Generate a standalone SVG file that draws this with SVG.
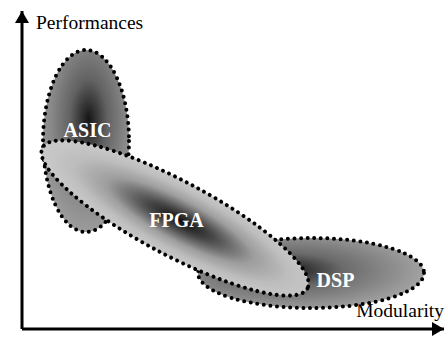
<svg xmlns="http://www.w3.org/2000/svg" width="446" height="343" viewBox="0 0 446 343">
  <defs>
    <radialGradient id="gAsic" cx="0.53" cy="0.38" r="0.62">
      <stop offset="0" stop-color="#151515"/>
      <stop offset="0.35" stop-color="#626262"/>
      <stop offset="0.7" stop-color="#888888"/>
      <stop offset="1" stop-color="#9c9c9c"/>
    </radialGradient>
    <radialGradient id="gFpga" cx="0.52" cy="0.5" r="0.5">
      <stop offset="0" stop-color="#0e0e0e"/>
      <stop offset="0.25" stop-color="#4a4a4a"/>
      <stop offset="0.55" stop-color="#9e9e9e"/>
      <stop offset="0.8" stop-color="#bdbdbd"/>
      <stop offset="1" stop-color="#c8c8c8"/>
    </radialGradient>
    <radialGradient id="gDsp" cx="0.4" cy="0.46" r="0.6">
      <stop offset="0" stop-color="#181818"/>
      <stop offset="0.4" stop-color="#6a6a6a"/>
      <stop offset="1" stop-color="#a2a2a2"/>
    </radialGradient>
    <marker id="arrow" viewBox="0 0 12 14" refX="12" refY="7" markerWidth="12" markerHeight="14" markerUnits="userSpaceOnUse" orient="auto">
      <path d="M0,0 L12,7 L0,14 z" fill="#000"/>
    </marker>
    <style>
      .blob { stroke: #000; stroke-width: 4; stroke-dasharray: 0 6.6; stroke-linecap: round; }
      .lbl { font-family: "Liberation Serif", "Times New Roman", serif; font-weight: bold; font-size: 20px; fill: #ffffff; text-anchor: middle; }
      .axis { stroke: #000; stroke-width: 3; fill: none; }
      .axlbl { font-family: "Liberation Serif", "Times New Roman", serif; font-size: 19.5px; fill: #000; }
    </style>
  </defs>

  <g id="axes">
    <line class="axis" x1="22" y1="329" x2="22" y2="11" marker-end="url(#arrow)"/>
    <line class="axis" x1="22" y1="329" x2="444" y2="329" marker-end="url(#arrow)"/>
    <text class="axlbl" x="36" y="29">Performances</text>
    <text class="axlbl" x="444" y="317" text-anchor="end">Modularity</text>
  </g>

  <g id="ASIC">
    <ellipse class="blob" cx="86" cy="141" rx="43" ry="91" fill="url(#gAsic)"/>
    <text class="lbl" x="87.5" y="137">ASIC</text>
  </g>

  <g id="DSP">
    <ellipse class="blob" cx="311" cy="273" rx="113" ry="35" fill="url(#gDsp)"/>
    <text class="lbl" x="335.5" y="287">DSP</text>
  </g>

  <g id="FPGA">
    <ellipse class="blob" cx="175" cy="218" rx="150" ry="37" transform="rotate(28 175 218)" fill="url(#gFpga)"/>
    <text class="lbl" x="176.5" y="227">FPGA</text>
  </g>
</svg>
